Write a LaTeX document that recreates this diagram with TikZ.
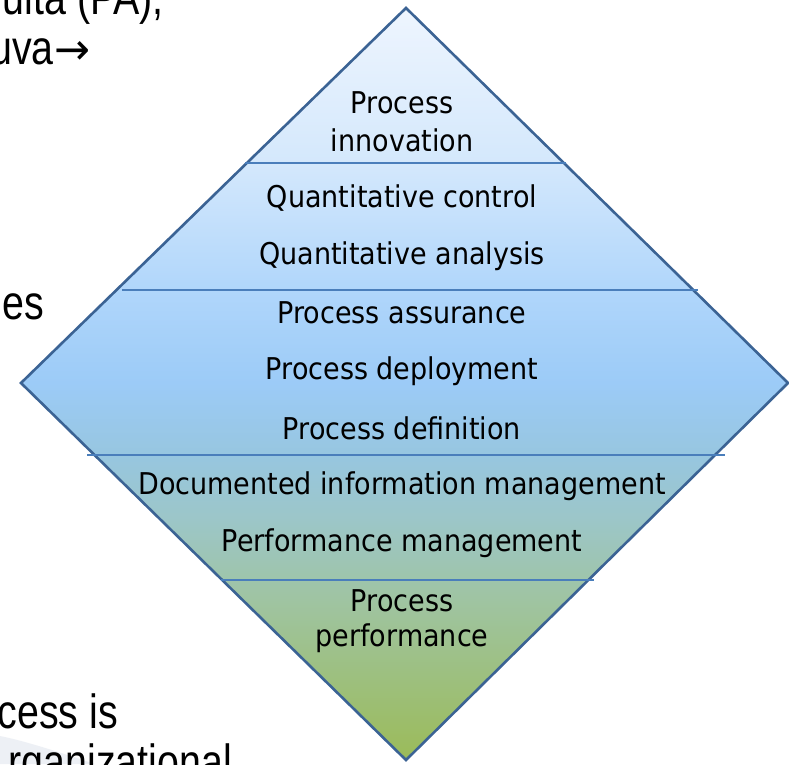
\documentclass[tikz,border=0pt]{standalone}
\usepackage{fontspec}
\usepackage{graphicx}
\setmainfont[FakeStretch=0.9]{DejaVu Sans}
\newfontfamily\bgfont[FakeStretch=0.82]{Liberation Sans}
\newfontfamily\arrowfont{DejaVu Sans}
\definecolor{cT}{HTML}{EEF5FE}
\definecolor{cA}{HTML}{D4E8FC}
\definecolor{cB}{HTML}{B0D6FB}
\definecolor{cC}{HTML}{9CCBF7}
\definecolor{cD}{HTML}{97C6E0}
\definecolor{cE}{HTML}{9CC6C8}
\definecolor{cF}{HTML}{9FC4A2}
\definecolor{cG}{HTML}{9BBB59}
\definecolor{edgecol}{HTML}{3B6394}
\definecolor{divcol}{HTML}{4A7EBB}
\definecolor{haze}{HTML}{E9EDF3}
\pgfdeclareverticalshading{diamondgrad}{100bp}{color(0bp)=(cG); color(25bp)=(cG); color(35.7bp)=(cF); color(41bp)=(cE); color(45.3bp)=(cD); color(50.1bp)=(cC); color(56.25bp)=(cB); color(64.7bp)=(cA); color(75bp)=(cT); color(100bp)=(cT)}
\tikzset{
  lvl/.style={font=\fontsize{30}{33}\selectfont, text=black, inner sep=0pt, anchor=center},
  bgtext/.style={font=\bgfont\fontsize{48}{56}\selectfont, text=black, inner sep=0pt, anchor=base east},
  divider/.style={draw=divcol, line width=1.6pt},
}
\begin{document}
\begin{tikzpicture}[x=1pt,y=1pt]
\useasboundingbox (0,0) rectangle (789,764);
\clip (0,0) rectangle (789,764);
\fill[white] (0,0) rectangle (789,764);
% faint haze at lower left
\fill[haze, opacity=0.8] (0,0) -- (0,28) .. controls (30,22) and (70,8) .. (95,0) -- cycle;
% background slide text (cut by frame)
\node[bgtext] (t1) at (164,749) {ulta (PA),};
\node[bgtext] (t2) at (91,699) {uva\hspace{1pt}\resizebox{36pt}{23pt}{\arrowfont\char"2192}};
\node[bgtext] (t3) at (44,444) {es};
\node[bgtext] (t4) at (118,36) {cess is};
\node[bgtext] (t5) at (232,-14) {rganizational};
% diamond
\shadedraw[shading=diamondgrad, draw=edgecol, line width=2.6pt, line join=miter]
  (406,756) -- (788,381) -- (406,4) -- (21,381) -- cycle;
% dividers
\coordinate (d1a) at (245,601); \coordinate (d1b) at (566,601);
\coordinate (d2a) at (122,474); \coordinate (d2b) at (698,474);
\coordinate (d3a) at (87,309); \coordinate (d3b) at (725,309);
\coordinate (d4a) at (221,184); \coordinate (d4b) at (594,184);
\draw[divider] (d1a) -- (d1b);
\draw[divider] (d2a) -- (d2b);
\draw[divider] (d3a) -- (d3b);
\draw[divider] (d4a) -- (d4b);
% labels
\node[lvl] (l1a) at (402,661) {Process};
\node[lvl] (l1b) at (402,624) {innovation};
\node[lvl] (l2) at (402,566) {Quantitative control};
\node[lvl] (l3) at (402,508) {Quantitative analysis};
\node[lvl] (l4) at (402,451) {Process assurance};
\node[lvl] (l5) at (402,393) {Process deployment};
\node[lvl] (l6) at (402,336) {Process definition};
\node[lvl] (l7) at (402,278) {Documented information management};
\node[lvl] (l8) at (402,221) {Performance management};
\node[lvl] (l9a) at (402,163) {Process};
\node[lvl] (l9b) at (402,126) {performance};
\end{tikzpicture}
\end{document}
